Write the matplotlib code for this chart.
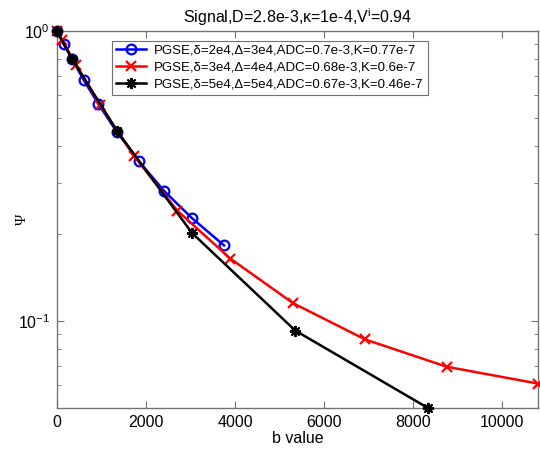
import matplotlib
matplotlib.use('Agg')
import matplotlib.pyplot as plt
from matplotlib.ticker import FixedLocator

plt.rcParams['font.family'] = ['Liberation Sans', 'DejaVu Sans']
plt.rcParams['mathtext.fontset'] = 'custom'
plt.rcParams['mathtext.rm'] = 'Liberation Sans'
plt.rcParams['mathtext.it'] = 'Liberation Sans:italic'

# data
b_blue = [0, 150, 340, 600, 930, 1350, 1840, 2400, 3030, 3750]
psi_blue = [1.0, 0.90, 0.80, 0.677, 0.559, 0.447, 0.355, 0.281, 0.226, 0.182]

b_red = [0, 110, 430, 970, 1730, 2700, 3890, 5300, 6920, 8750, 10800]
psi_red = [1.0, 0.93, 0.763, 0.555, 0.370, 0.240, 0.164, 0.115, 0.0862, 0.0694, 0.0607]

b_black = [0, 340, 1350, 3030, 5350, 8330]
psi_black = [1.0, 0.800, 0.451, 0.201, 0.0925, 0.0500]

labels = [
    'PGSE,\u03b4=2e4,\u0394=3e4,ADC=0.7e-3,K=0.77e-7',
    'PGSE,\u03b4=3e4,\u0394=4e4,ADC=0.68e-3,K=0.6e-7',
    'PGSE,\u03b4=5e4,\u0394=5e4,ADC=0.67e-3,K=0.46e-7',
]
x_ticks = [0, 2000, 4000, 6000, 8000, 10000]

fig = plt.figure(figsize=(5.4, 4.49), dpi=100)
ax = fig.add_axes([0.1056, 0.0913, 0.8907, 0.8397])

ax.plot(b_blue, psi_blue, color='blue', lw=1.8, marker='o', ms=7,
        mfc='none', mew=1.6, clip_on=False, zorder=3, label=labels[0])
ax.plot(b_red, psi_red, color='red', lw=1.8, marker='x', ms=7,
        mew=1.6, clip_on=False, zorder=3, label=labels[1])
ax.plot(b_black, psi_black, color='black', lw=1.8, marker=(8, 2, 0), ms=8,
        mew=1.4, clip_on=False, zorder=4, label=labels[2])

ax.set_yscale('log')
ax.set_xlim(0, 10800)
ax.set_ylim(0.05, 1)
ax.xaxis.set_major_locator(FixedLocator(x_ticks))

ax.tick_params(which='both', direction='in', top=True, right=True,
               color='0.45', labelsize=11.5, pad=5)
ax.tick_params(which='major', length=5)
ax.tick_params(which='minor', length=3)
for s in ax.spines.values():
    s.set_color('0.45')
    s.set_linewidth(1.0)

ax.set_title('Signal,D=2.8e-3,\u03ba=1e-4,V$^{\\mathrm{i}}$=0.94', fontsize=11.5, pad=6)
ax.set_xlabel('b value', fontsize=11.5, labelpad=1)
ax.set_ylabel('\u03a8', fontsize=11, family=['Liberation Serif', 'DejaVu Serif'])
ax.yaxis.set_label_coords(-0.058, 0.5)

leg = ax.legend(loc='upper left', bbox_to_anchor=(0.114, 0.974), borderaxespad=0,
                fancybox=False, edgecolor='0.3', fontsize=9.5, handlelength=2.3,
                labelspacing=0.35, borderpad=0.3, handletextpad=0.6)
leg.get_frame().set_linewidth(0.8)

fig.savefig('out.png', dpi=100)
